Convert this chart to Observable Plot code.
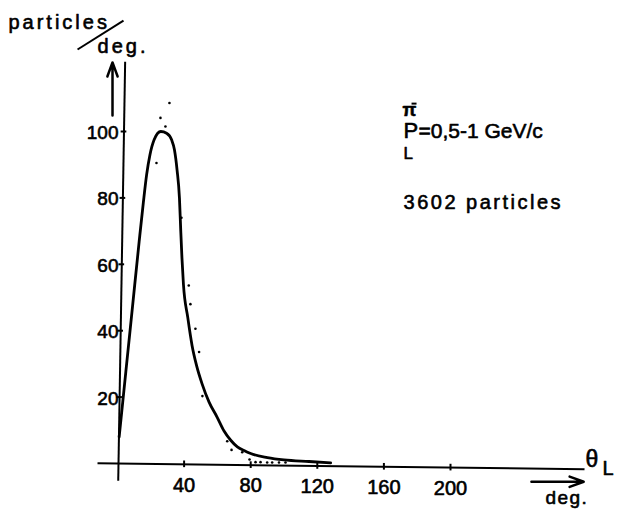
<!DOCTYPE html>
<html><head><meta charset="utf-8">
<script src="https://cdn.jsdelivr.net/npm/d3@7"></script>
<script src="https://cdn.jsdelivr.net/npm/@observablehq/plot@0.6"></script>
<style>
html,body{margin:0;padding:0;background:#fff;}
</style></head><body><div id="chart"></div>
<script>
// fitted curve (angle in degrees, particles per degree)
const curveAngle = [1, 5, 9, 13, 15.5, 17.5, 19.5, 22, 26, 29.5, 32.5, 34.2, 35.8, 37.2, 38, 38.7, 39.6, 42.2, 44.8, 47.5, 50.8, 55, 59.8, 64, 68, 72, 76, 80, 90, 100, 115, 128];
const curveCount = [8, 27.6, 47.2, 66.8, 78.5, 87, 93, 97.5, 100, 99.5, 97.5, 94.5, 88.3, 80, 70, 62, 54, 44, 35.5, 29.5, 24, 18.5, 14, 9.8, 7, 5, 3.9, 3, 1.8, 1.1, 0.6, 0.2];
// measured points
const pointAngle = [23.4, 25.8, 28.8, 31.2, 38.4, 42.8, 43.8, 46.8, 49, 51, 65.9, 68.5, 74.9, 79.3, 82.9, 85.9, 89.9, 92.9, 97, 100.9];
const pointCount = [90.5, 104.1, 101.5, 108.6, 74, 53.6, 48, 40.6, 33.6, 20.3, 6.7, 4.1, 3.4, 1.2, 0.4, 0.4, 0.3, 0.3, 0.3, 0.3];
const xTicks = [40, 80, 120, 160, 200];
const yTicks = [20, 40, 60, 80, 100];

const curve = curveAngle.map((a, i) => ({a, c: curveCount[i]}));
const points = pointAngle.map((a, i) => ({a, c: pointCount[i]}));

// hand-drawn axes are slightly tilted
const yAxisX = v => 0.6 + 0.033 * v;
const xAxisY = v => -0.00618 * v;

const F = "Liberation Sans, Arial, Helvetica, sans-serif";
const ink = {fill: "black", stroke: "black", strokeWidth: 0.6};
const lbl = {x: "x", y: "y", text: "t", textAnchor: "start", lineAnchor: "bottom", ...ink};
const seg = {x1: "x1", y1: "y1", x2: "x2", y2: "y2", stroke: "black"};

const chart = Plot.plot({
  width: 618, height: 516,
  marginLeft: 117, marginRight: 168, marginTop: 131, marginBottom: 53,
  x: {domain: [0, 200], axis: null},
  y: {domain: [0, 100], axis: null},
  style: {fontFamily: F, background: "white", color: "black"},
  marks: [
    // axes lines
    Plot.link([{x1: 0.43, y1: -5.2, x2: yAxisX(121), y2: 121}], {...seg, strokeWidth: 2}),
    Plot.link([{x1: -12, y1: xAxisY(-12), x2: 280.5, y2: xAxisY(280.5)}], {...seg, strokeWidth: 2}),
    // tick marks
    Plot.ruleY(yTicks, {y: d => d, x1: d => yAxisX(d) - 1.7, x2: d => yAxisX(d) + 1.7, stroke: "black", strokeWidth: 2}),
    Plot.ruleX(xTicks, {x: d => d, y1: d => xAxisY(d) - 1, y2: d => xAxisY(d) + 1, stroke: "black", strokeWidth: 2}),
    // tick labels
    Plot.text(yTicks, {x: 0, y: d => d, text: d => String(d), textAnchor: "end", dx: 1, dy: 1.5, fontSize: 19, ...ink}),
    Plot.text(xTicks, {x: d => d, y: d => xAxisY(d), text: d => String(d), lineAnchor: "top", dy: 13, fontSize: 20, ...ink}),
    // data
    Plot.line(curve, {x: "a", y: "c", curve: "monotone-x", stroke: "black", strokeWidth: 2.8}),
    Plot.dot(points, {x: "a", y: "c", r: 1.3, fill: "black", stroke: "none"}),
    // y label
    Plot.text([{x: -65.5, y: 131, t: "particles"}], {...lbl, fontSize: 20}),
    Plot.link([{x1: -24, y1: 124.7, x2: 3.6, y2: 133.4}], {...seg, strokeWidth: 2}),
    Plot.text([{x: -12, y: 123.5, t: "deg."}], {...lbl, fontSize: 20}),
    Plot.arrow([{x1: -3, y1: 104.8, x2: -3, y2: 120.8}], {...seg, strokeWidth: 2.5, headLength: 9, headAngle: 40}),
    // x label
    Plot.text([{x: 281.1, y: -1.2, t: "θ"}], {...lbl, fontSize: 23}),
    Plot.text([{x: 291.3, y: -3.6, t: "L"}], {...lbl, fontSize: 20}),
    Plot.arrow([{x1: 248.6, y1: -5.5, x2: 280, y2: -5.5}], {...seg, strokeWidth: 2.5, headLength: 9, headAngle: 40}),
    Plot.text([{x: 257, y: -12.3, t: "deg."}], {...lbl, fontSize: 19}),
    // annotations
    Plot.text([{x: 171.2, y: 104.8, t: "π"}], {...lbl, fontSize: 18, fontWeight: "bold"}),
    Plot.link([{x1: 176.6, y1: 108.4, x2: 179.6, y2: 108.4}], {...seg, strokeWidth: 2}),
    Plot.text([{x: 171.8, y: 97.9, t: "P"}], {...lbl, fontSize: 22}),
    Plot.text([{x: 171.8, y: 91.7, t: "L"}], {...lbl, fontSize: 17}),
    Plot.text([{x: 180.8, y: 97.9, t: "=0,5-1 GeV/c"}], {...lbl, fontSize: 21}),
    Plot.text([{x: 171.8, y: 76.8, t: "3602 particles"}], {...lbl, fontSize: 20})
  ]
});
d3.select(chart).selectAll("text").each(function() {
  const t = this.textContent;
  const fs = this.getAttribute("font-size") || d3.select(this.parentNode).attr("font-size");
  if ((t === "particles" || t === "deg.") && fs === "20") this.style.letterSpacing = "3px";
  if (t === "deg." && fs === "19") this.style.letterSpacing = "1.5px";
  if (t === "3602 particles") this.style.letterSpacing = "2.5px";
});
document.getElementById("chart").appendChild(chart);
</script>
</body></html>
